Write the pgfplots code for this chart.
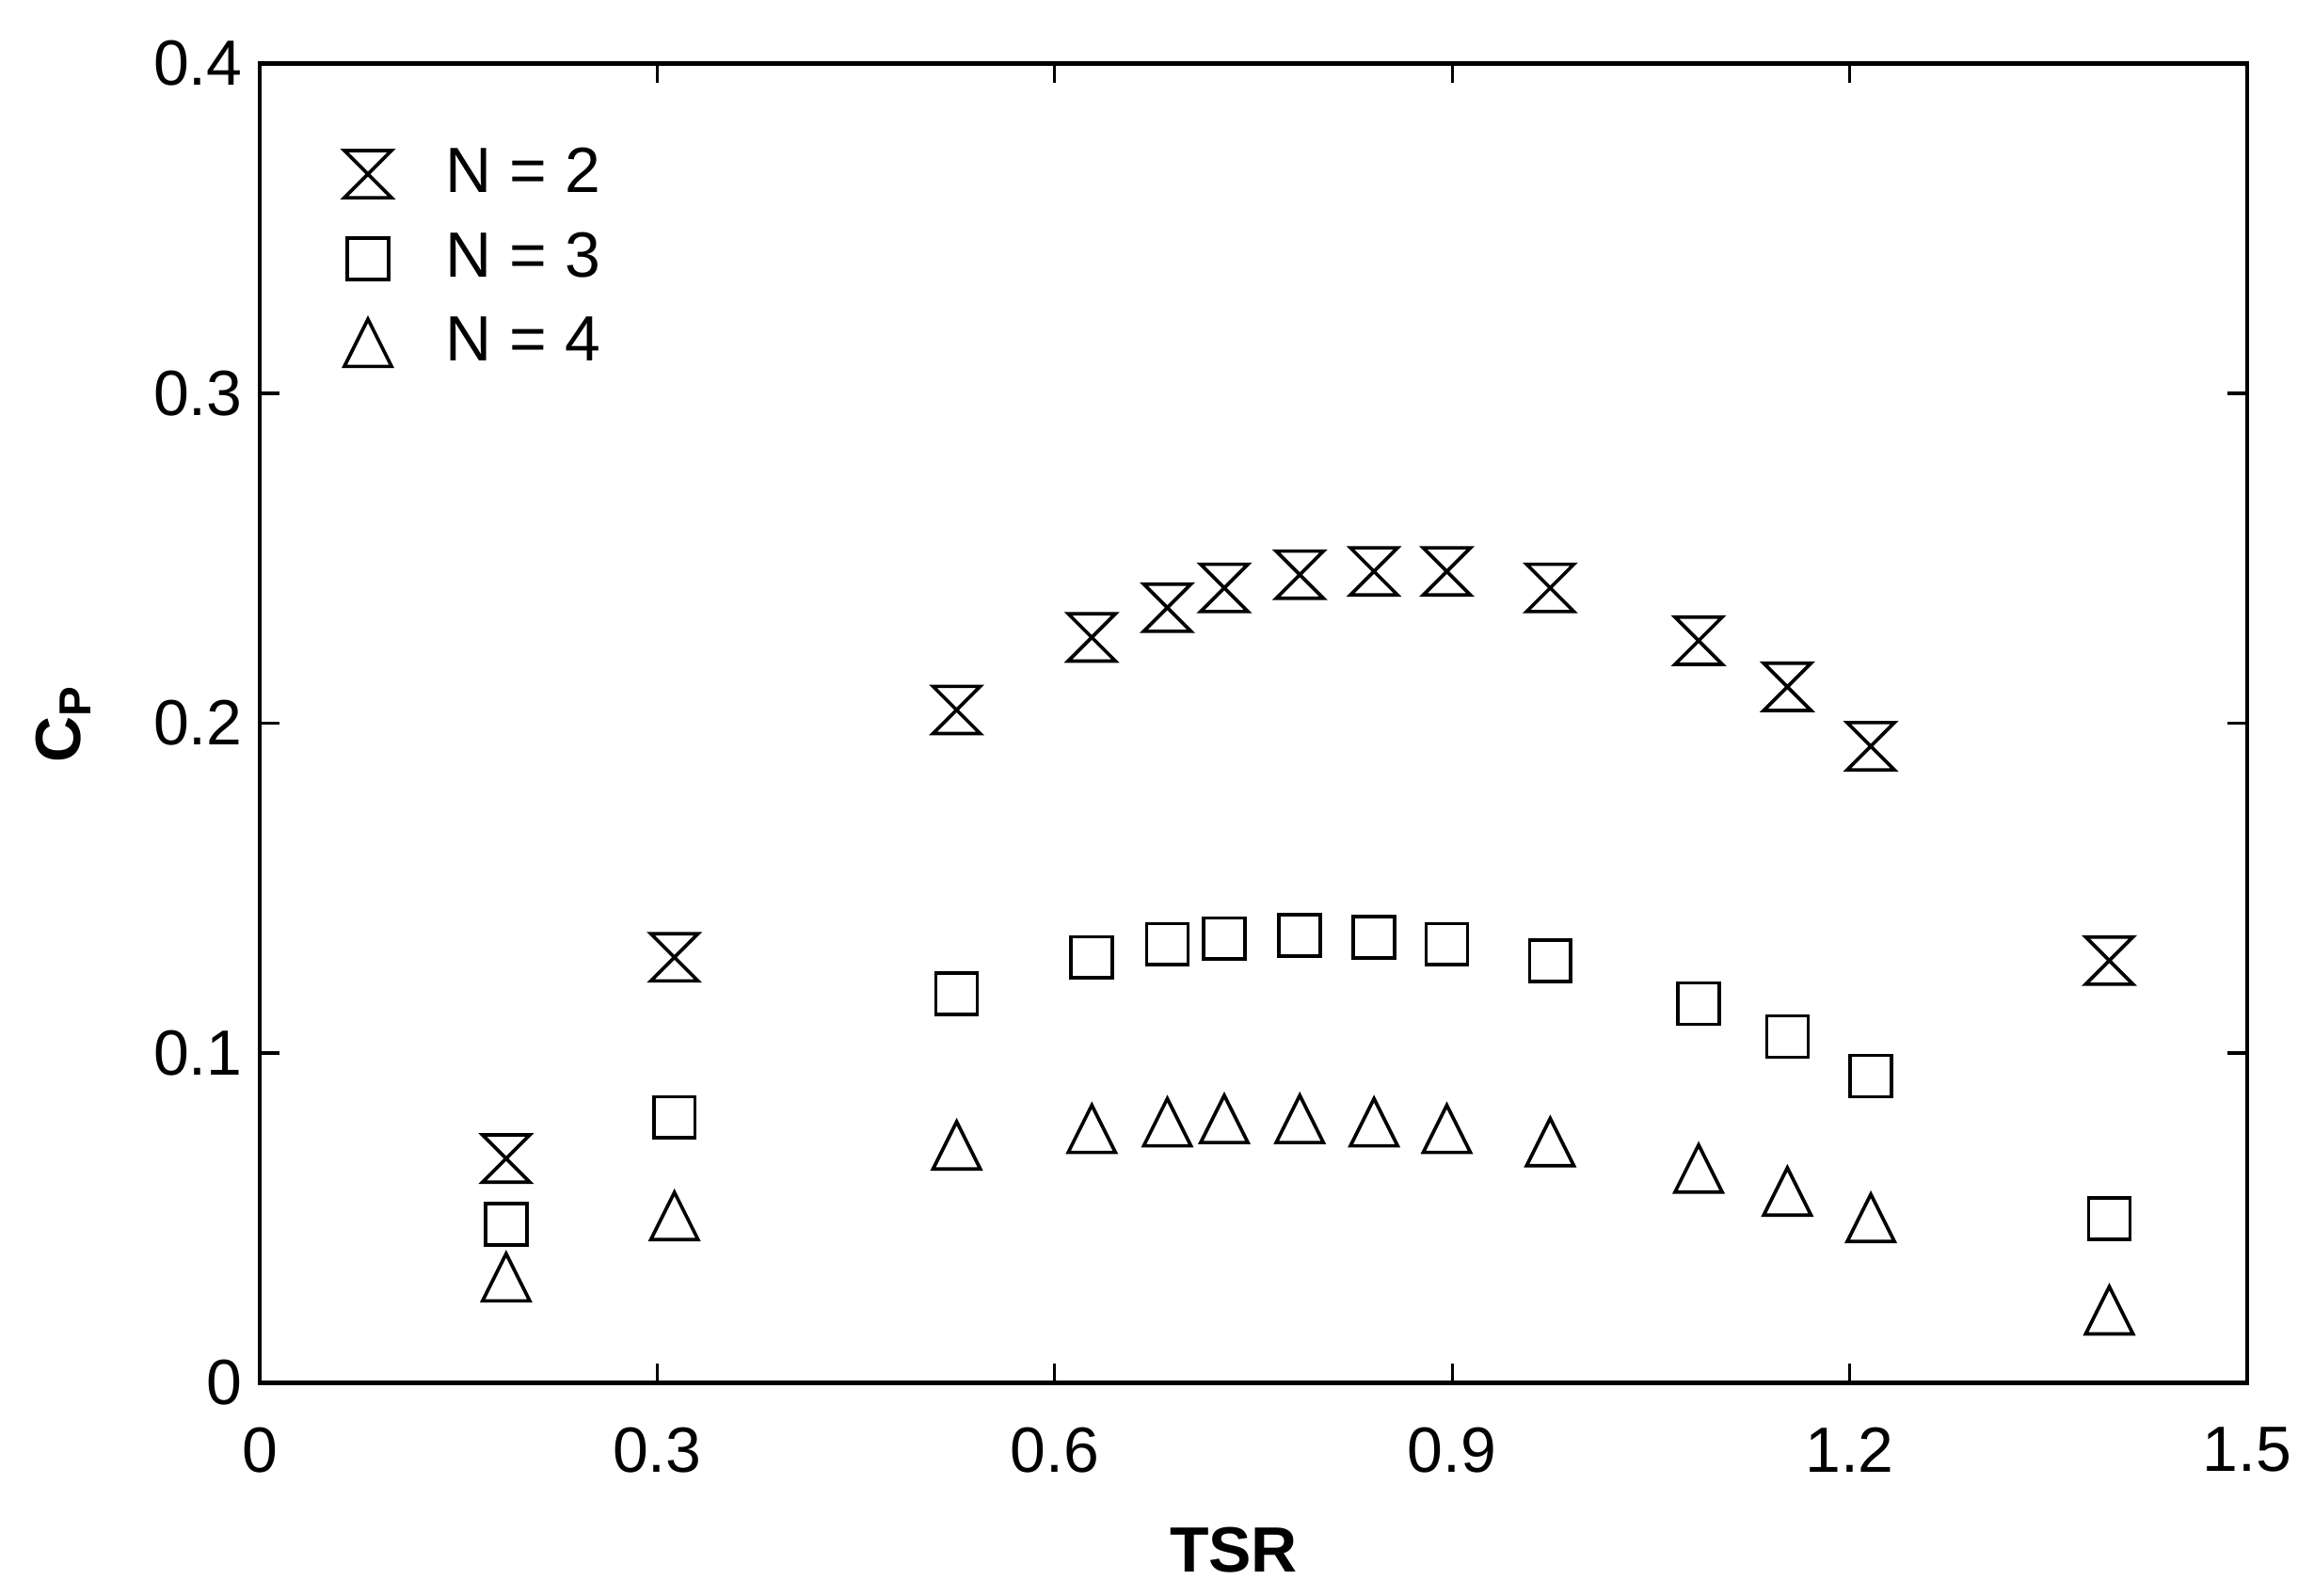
\documentclass[border=0pt]{standalone}
\usepackage{fontspec}
\setmainfont{Liberation Sans}
\usepackage{pgfplots}
\pgfplotsset{compat=1.18}

% MATLAB-style hourglass and open triangle markers
\pgfdeclareplotmark{hourglass}{%
  \pgfpathmoveto{\pgfqpoint{-\pgfplotmarksize}{\pgfplotmarksize}}%
  \pgfpathlineto{\pgfqpoint{\pgfplotmarksize}{\pgfplotmarksize}}%
  \pgfpathlineto{\pgfqpoint{-\pgfplotmarksize}{-\pgfplotmarksize}}%
  \pgfpathlineto{\pgfqpoint{\pgfplotmarksize}{-\pgfplotmarksize}}%
  \pgfpathclose
  \pgfusepathqstroke}
\pgfdeclareplotmark{tri}{%
  \pgfpathmoveto{\pgfqpoint{0pt}{\pgfplotmarksize}}%
  \pgfpathlineto{\pgfqpoint{-\pgfplotmarksize}{-\pgfplotmarksize}}%
  \pgfpathlineto{\pgfqpoint{\pgfplotmarksize}{-\pgfplotmarksize}}%
  \pgfpathclose
  \pgfusepathqstroke}

\begin{document}
\begin{tikzpicture}
  \begin{axis}[
      scale only axis,
      width = 404pt,
      height = 268.2pt,
      xmin = 0, xmax = 1.5,
      ymin = 0, ymax = 0.4,
      xtick = {0, 0.3, 0.6, 0.9, 1.2, 1.5},
      ytick = {0, 0.1, 0.2, 0.3, 0.4},
      xticklabels = {0, 0.3, 0.6, 0.9, 1.2, 1.5},
      yticklabels = {0, 0.1, 0.2, 0.3, 0.4},
      tick align = inside,
      major tick length = 4pt,
      tick style = {black, line width=0.6pt},
      axis line style = {line width=0.9pt},
      font = \fontsize{13}{15}\selectfont,
      /pgf/number format/assume math mode = true,
      xticklabel style = {yshift=-5.5pt},
      yticklabel style = {xshift=0pt},
      xlabel = {\textbf{TSR}},
      ylabel = {\textbf{C}\textsubscript{\textbf{P}}},
      xlabel style = {at={(rel axis cs:0.5,0)}, anchor=center, yshift=-34pt, xshift=-4pt},
      ylabel style = {at={(rel axis cs:0,0.5)}, anchor=center, yshift=40pt},
      legend style = {draw=none, fill=none, at={(rel axis cs:0,1)},
        anchor=north west, xshift=14pt, yshift=-13pt,
        row sep=2.6pt, column sep=9pt, font=\fontsize{13}{15}\selectfont},
      legend cell align = left,
      every axis plot/.append style = {only marks, black, line width=0.7pt, mark options={solid}}
    ]
    \addplot[mark=hourglass, mark size=4.8pt] coordinates {
      (0.186, 0.068) (0.313, 0.129) (0.526, 0.204) (0.628, 0.226)
      (0.685, 0.235) (0.728, 0.241) (0.785, 0.245) (0.841, 0.246)
      (0.896, 0.246) (0.974, 0.241) (1.086, 0.225) (1.153, 0.211)
      (1.216, 0.193) (1.396, 0.128)
    };
    \addlegendentry{N = 2}
    \addplot[mark=square, mark size=4.2pt] coordinates {
      (0.186, 0.048) (0.313, 0.0805) (0.526, 0.118) (0.628, 0.129)
      (0.685, 0.133) (0.728, 0.1347) (0.785, 0.1356) (0.841, 0.135)
      (0.896, 0.133) (0.974, 0.128) (1.086, 0.115) (1.153, 0.105)
      (1.216, 0.093) (1.396, 0.0497)
    };
    \addlegendentry{N = 3}
    \addplot[mark=tri, mark size=4.8pt] coordinates {
      (0.186, 0.032) (0.313, 0.0506) (0.526, 0.072) (0.628, 0.077)
      (0.685, 0.079) (0.728, 0.080) (0.785, 0.080) (0.841, 0.079)
      (0.896, 0.077) (0.974, 0.073) (1.086, 0.065) (1.153, 0.058)
      (1.216, 0.050) (1.396, 0.022)
    };
    \addlegendentry{N = 4}
  \end{axis}
  \useasboundingbox (-52.8pt,-43.2pt) rectangle (417.6pt,281.1pt);
\end{tikzpicture}
\end{document}
